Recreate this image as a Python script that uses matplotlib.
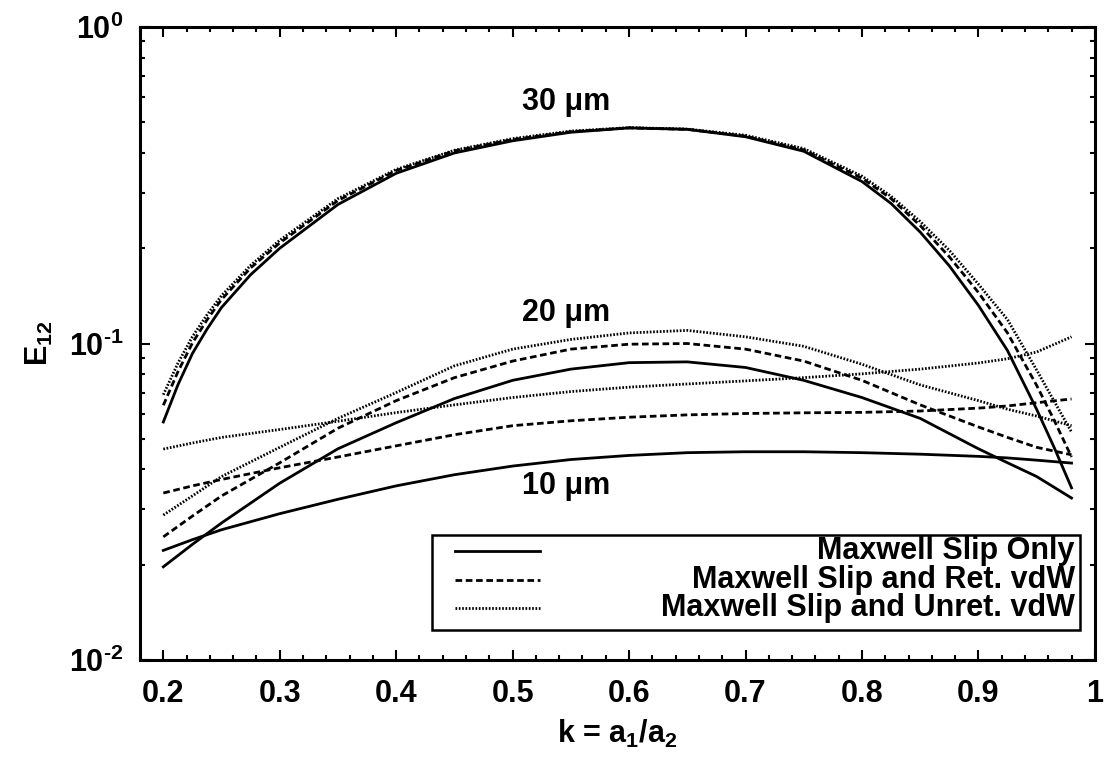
import numpy as np
import matplotlib
matplotlib.use('Agg')
import matplotlib.pyplot as plt
from matplotlib.ticker import MultipleLocator, LogLocator, NullFormatter, FuncFormatter, FormatStrFormatter
from matplotlib.patches import Rectangle

plt.rcParams['font.family'] = ['Liberation Sans', 'DejaVu Sans']
plt.rcParams['font.weight'] = 'bold'
plt.rcParams['mathtext.fontset'] = 'custom'
plt.rcParams['mathtext.rm'] = 'Liberation Sans:bold'
plt.rcParams['mathtext.it'] = 'Liberation Sans:bold'
plt.rcParams['mathtext.bf'] = 'Liberation Sans:bold'
plt.rcParams['mathtext.default'] = 'rm'
plt.rcParams['axes.unicode_minus'] = False

# k = a1/a2, finer sampling for the strongly curved 30 um set
k30 = [0.2, 0.2125, 0.225, 0.2375, 0.25, 0.275, 0.3, 0.35, 0.4, 0.45, 0.5, 0.55, 0.6,
       0.65, 0.7, 0.75, 0.8, 0.825, 0.85, 0.875, 0.9, 0.925, 0.95, 0.965, 0.98]
k = [0.2, 0.225, 0.25, 0.3, 0.35, 0.4, 0.45, 0.5, 0.55, 0.6,
     0.65, 0.7, 0.75, 0.8, 0.85, 0.9, 0.925, 0.95, 0.98]

# 30 um
e30_slip = [0.0565, 0.074, 0.093, 0.111, 0.130, 0.165, 0.200, 0.275, 0.345, 0.400, 0.437, 0.465, 0.480,
            0.475, 0.450, 0.405, 0.325, 0.277, 0.225, 0.176, 0.132, 0.095, 0.062, 0.047, 0.035]
e30_ret = [0.0638, 0.0814, 0.1004, 0.1188, 0.1378, 0.1733, 0.208, 0.283, 0.352, 0.406, 0.441, 0.467, 0.480,
           0.475, 0.452, 0.409, 0.333, 0.287, 0.236, 0.188, 0.145, 0.108, 0.0738, 0.0573, 0.0438]
e30_unret = [0.0689, 0.0866, 0.1051, 0.1232, 0.1417, 0.1766, 0.212, 0.287, 0.355, 0.408, 0.444, 0.469, 0.481,
             0.476, 0.455, 0.413, 0.338, 0.292, 0.243, 0.197, 0.154, 0.119, 0.0825, 0.0658, 0.0525]

# 20 um
e20_slip = [0.0197, 0.0232, 0.0271, 0.0362, 0.0465, 0.0562, 0.067, 0.0765, 0.083, 0.087,
            0.0875, 0.084, 0.0765, 0.0675, 0.058, 0.0465, 0.042, 0.038, 0.0325]
e20_ret = [0.0245, 0.0285, 0.033, 0.042, 0.054, 0.066, 0.078, 0.088, 0.096, 0.0995,
           0.100, 0.096, 0.088, 0.0765, 0.064, 0.0545, 0.0505, 0.047, 0.0445]
e20_unret = [0.0287, 0.033, 0.038, 0.047, 0.058, 0.070, 0.085, 0.096, 0.103, 0.108,
             0.110, 0.105, 0.098, 0.086, 0.074, 0.066, 0.062, 0.059, 0.055]

# 10 um
e10_slip = [0.0222, 0.024, 0.0258, 0.029, 0.0322, 0.0355, 0.0385, 0.041, 0.043, 0.0443,
            0.0452, 0.0455, 0.0455, 0.0452, 0.0447, 0.044, 0.0435, 0.0428, 0.0419]
e10_ret = [0.0337, 0.0355, 0.0372, 0.0405, 0.0438, 0.0475, 0.0515, 0.055, 0.057, 0.0585,
           0.0595, 0.0601, 0.0604, 0.0606, 0.0612, 0.0625, 0.0635, 0.065, 0.0668]
e10_unret = [0.0464, 0.0485, 0.0505, 0.0535, 0.0568, 0.0605, 0.064, 0.0675, 0.0705, 0.0728,
             0.0745, 0.0762, 0.078, 0.0802, 0.083, 0.0868, 0.0895, 0.094, 0.105]

labels = ['Maxwell Slip Only', 'Maxwell Slip and Ret. vdW', 'Maxwell Slip and Unret. vdW']
size_labels = ['30 \u03bcm', '20 \u03bcm', '10 \u03bcm']
size_pos = [(0.546, 0.58), (0.546, 0.125), (0.546, 0.0355)]

fs = 22
lw = 2.0
styles = [dict(linestyle='-'),
          dict(linestyle=(0, (2.4, 1.3))),
          dict(linestyle=(0, (0.6, 0.6)))]


def decade(v, pos):
    e = int(round(np.log10(v)))
    if e < 0:
        return r'$10^{\text{-%d}}$' % (-e)
    return r'$10^{%d}$' % e


fig = plt.figure(figsize=(11.07, 7.61), dpi=100)
ax = fig.add_axes([0.1265, 0.1327, 0.8625, 0.8318])

groups = [(k30, (e30_slip, e30_ret, e30_unret)),
          (k, (e20_slip, e20_ret, e20_unret)),
          (k, (e10_slip, e10_ret, e10_unret))]
for xs, grp in groups:
    for vals, st in zip(grp, styles):
        ax.plot(xs, vals, color='black', lw=lw, **st)

for txt, (x, y) in zip(size_labels, size_pos):
    ax.text(x, y, txt, ha='center', va='center', fontsize=fs, fontweight='bold')

ax.set_yscale('log')
ax.set_xlim(0.18, 1.0)
ax.set_ylim(0.01, 1.0)

ax.xaxis.set_major_locator(MultipleLocator(0.1))
ax.xaxis.set_minor_locator(MultipleLocator(0.02))
ax.xaxis.set_major_formatter(FormatStrFormatter('%g'))
ax.yaxis.set_major_locator(LogLocator(base=10))
ax.yaxis.set_minor_locator(LogLocator(base=10, subs=np.arange(2, 10)))
ax.yaxis.set_minor_formatter(NullFormatter())
ax.yaxis.set_major_formatter(FuncFormatter(decade))

ax.tick_params(which='both', direction='in', top=True, right=True, width=1.5, labelsize=fs)
ax.tick_params(axis='x', which='both', pad=14)
ax.tick_params(axis='y', which='both', pad=12)
ax.tick_params(which='major', length=7)
ax.tick_params(which='minor', length=3.5)
for sp in ax.spines.values():
    sp.set_linewidth(2.2)

ax.set_xlabel('k = a$_1$/a$_2$', fontsize=fs, fontweight='bold', labelpad=6)
ax.set_ylabel('E$_{12}$', fontsize=fs, fontweight='bold', labelpad=10)

# legend box, sample line on the left, text right aligned
ax.add_patch(Rectangle((0.306, 0.047), 0.678, 0.150, transform=ax.transAxes,
                       facecolor='white', edgecolor='black', lw=1.8, zorder=5))
rows = [0.172, 0.126, 0.082]
for lab, st, ry in zip(labels, styles, rows):
    ax.plot([0.33, 0.419], [ry, ry], transform=ax.transAxes, color='black', lw=lw, zorder=6, **st)
    ax.text(0.979, ry, lab, transform=ax.transAxes, ha='right', va='center',
            fontsize=fs, fontweight='bold', zorder=6)

fig.savefig('out.png', dpi=100)
